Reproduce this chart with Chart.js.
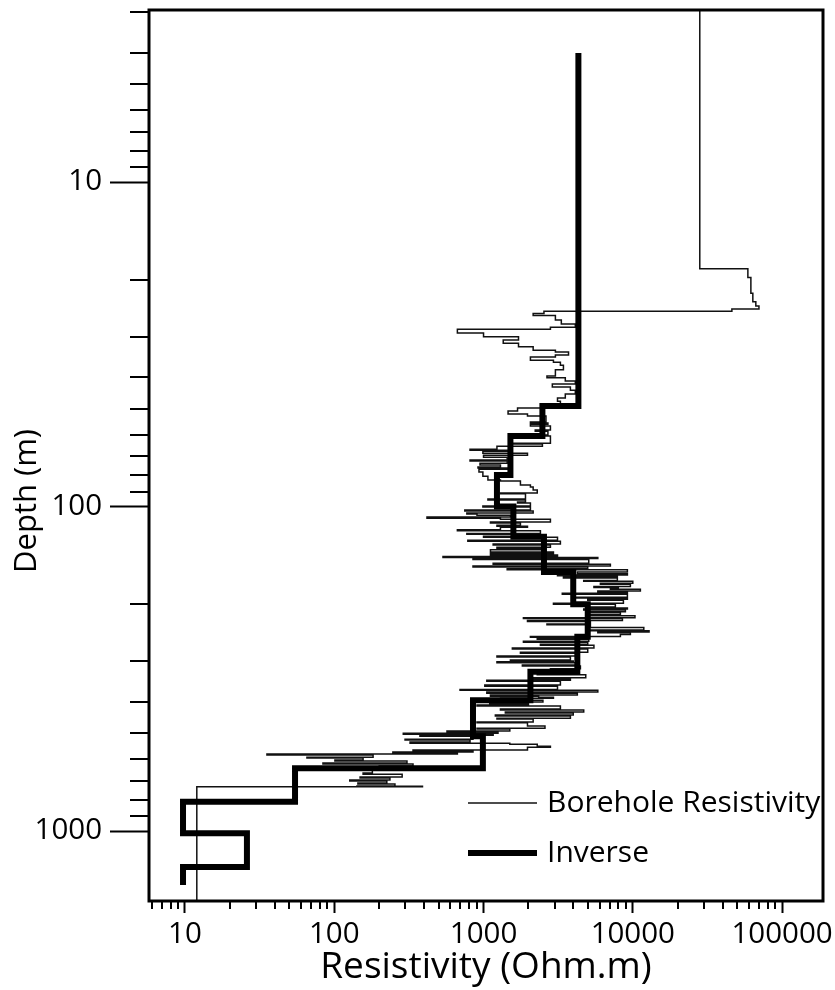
<!DOCTYPE html>
<html>
<head>
<meta charset="utf-8">
<script src="https://cdn.jsdelivr.net/npm/chart.js@4.4.0/dist/chart.umd.min.js"></script>
<style>
  html, body { margin: 0; padding: 0; background: #fff; }
</style>
</head>
<body>
<canvas id="resistivityChart" width="835" height="990"></canvas>
<script>
// Borehole resistivity log: depth (m) where each step starts, resistivity (Ohm.m) below it
const boreDepth = [
    2.95, 18.5, 19.7, 22.0, 23.4, 24.1, 24.6, 25.0, 25.4, 25.8,
    26.6, 27.4, 28.0, 28.4, 29.2, 30.0, 30.7, 31.4, 32.2, 33.0,
    33.4, 34.1, 34.6, 35.4, 35.9, 36.7, 37.9, 39.6, 40.1, 41.0,
    41.9, 42.8, 43.8, 45.0, 46.3, 47.4, 48.4, 49.7, 50.8, 51.9,
    52.6, 54.9, 55.3, 55.8, 56.5, 58.1, 58.6, 60.2, 60.6, 63.8,
    64.2, 65.2, 66.6, 67.1, 67.6, 68.5, 69.5, 70.5, 71.9, 72.4,
    73.5, 74.5, 75.6, 76.1, 76.7, 78.3, 80.6, 82.8, 83.4, 85.8,
    87.0, 88.9, 90.8, 91.4, 94.8, 95.5, 96.9, 97.6, 99.7, 100.4,
    102.5, 103.2, 104.7, 105.5, 106.3, 107.8, 108.6, 109.4, 111.6, 112.4,
    114.2, 115.0, 115.8, 118.0, 118.8, 121.0, 121.8, 123.5, 124.4, 127,
    128, 130.5, 131.5, 133.5, 134.4, 136, 138, 139.5, 141, 142.5,
    143.5, 144.5, 145.5, 149.5, 150.5, 152.5, 153.5, 155.5, 156.5, 159,
    161, 162.5, 163.5, 165, 166, 169, 170, 172.5, 173.5, 176.5,
    177.5, 179, 180, 182, 184, 185, 186.5, 190.5, 191.5, 193,
    194.5, 198.5, 200, 204, 205.5, 207, 208.5, 211, 212.5, 215.5,
    217, 220, 221.5, 224.5, 226, 230, 231.5, 234.5, 236, 240,
    241.5, 243.5, 245, 248, 251.5, 253, 255, 256.5, 260, 262,
    265.5, 267.5, 273, 275, 281, 283, 289, 291, 297, 299,
    301, 303, 308, 310, 316, 320, 325, 330, 337, 339.5,
    343, 345.5, 355, 358, 366, 368.5, 373, 376, 381, 384,
    387, 390, 395, 400, 405, 409, 412, 421, 424, 430,
    433, 439, 442, 449, 452, 461, 464, 475, 482, 485,
    492, 496, 500, 503, 507, 510, 521, 524, 532, 536,
    540, 548, 552, 563, 567, 571, 575, 579, 583, 592,
    596, 604, 608, 617, 621, 630, 640, 649, 663, 668,
    682, 687, 696, 701, 711, 716, 726, 728, 731, 1643
];
const boreRes = [
    28100, 59000, 61800, 63700, 66700, 70000, 46100, 2540, 2150, 3030,
    3320, 4120, 2806, 668, 1000, 1715, 1355, 1715, 2150, 3030,
    3710, 3030, 2061, 2940, 3273, 3430, 3030, 2660, 3530, 4120,
    2890, 3819, 4120, 3530, 3130, 3273, 2580, 1690, 1460, 1970,
    2620, 2061, 2700, 2061, 2806, 2220, 2700, 2405, 2806, 1585,
    2480, 1230, 812, 1514, 990, 1970, 1000, 1440, 812, 1440,
    947, 1298, 918, 1514, 932, 990, 1070, 1298, 1767, 2061,
    2150, 2290, 1298, 1910, 1070, 1910, 1690, 2061, 990, 2061,
    749, 2150, 773, 904, 1514, 418, 1298, 2806, 1113, 1767,
    1230, 1970, 1298, 668, 2405, 773, 1850, 1000, 3130, 785,
    3273, 1160, 2806, 1230, 2405, 1113, 2940, 1113, 3130, 535,
    5830, 850, 5070, 1160, 7077, 850, 4990, 1440, 9200, 4250,
    9200, 3130, 7880, 3430, 7880, 4690, 10000, 6066, 9634, 5490,
    8000, 7077, 11240, 5830, 9200, 3370, 9200, 3990, 9200, 4990,
    8650, 2940, 7640, 4990, 9200, 4690, 8920, 5199, 8257, 5199,
    10340, 1850, 8520, 1970, 5199, 2660, 5199, 4990, 11850, 4990,
    12850, 5830, 9634, 8257, 2061, 4250, 2290, 5070, 1850, 4990,
    2405, 5490, 1560, 4990, 1767, 4250, 1230, 3819, 1514, 3990,
    1230, 4250, 1820, 4456, 2806, 4120, 2290, 4840, 2061, 3819,
    1052, 3273, 1020, 3130, 696, 5830, 1052, 4250, 1113, 2340,
    2940, 1300, 2500, 1100, 2000, 904, 3273, 1298, 4690, 1400,
    3990, 1200, 3819, 1230, 2150, 904, 1970, 2580, 904, 1500,
    569, 1250, 290, 1160, 375, 850, 298, 812, 322, 1500,
    2290, 2806, 1970, 337, 850, 247, 668, 35.4, 182, 65.6,
    156, 101, 307, 84, 337, 200, 290, 180, 156, 285,
    149, 236, 127, 225, 144, 255, 142, 390, 12, 12
];

// Inverse model: top of each layer (m) and its resistivity (Ohm.m); last entry closes the bottom layer
const invDepth = [4.0, 49.0, 60.6, 80.0, 100, 124, 159, 200, 252, 323, 395, 510, 640, 812, 1015, 1290, 1466];
const invRes   = [4320, 2480, 1514, 1230, 1585, 2540, 3990, 4990, 4250, 2061, 850, 990, 54.6, 9.7, 26, 9.7, 9.7];

// Axis ticks
const xLabels = [10, 100, 1000, 10000, 100000];
const yLabels = [10, 100, 1000];
const xMinor = [6, 7, 8, 9, 20, 30, 40, 50, 60, 70, 80, 90, 200, 300, 400, 500, 600, 700, 800, 900,
    2000, 3000, 4000, 5000, 6000, 7000, 8000, 9000, 20000, 30000, 40000, 50000, 60000, 70000, 80000, 90000];
const yMinor = [3, 4, 5, 6, 7, 8, 9, 20, 30, 40, 50, 60, 70, 80, 90, 200, 300, 400, 500, 600, 700, 800, 900];

const FONT = "'Open Sans', sans-serif";

// Minor tick marks, the closed plot frame, the rotated y title and the in-plot legend
const frameAndLegend = {
    id: 'frameAndLegend',
    afterDraw(chart) {
        const { ctx, chartArea: a, scales } = chart;
        ctx.save();
        ctx.strokeStyle = '#000';
        ctx.lineWidth = 2;
        ctx.beginPath();
        yMinor.forEach(v => {
            const y = Math.round(scales.y.getPixelForValue(v));
            ctx.moveTo(a.left - 19, y);
            ctx.lineTo(a.left, y);
        });
        xMinor.forEach(v => {
            const x = Math.round(scales.x.getPixelForValue(v));
            ctx.moveTo(x, a.bottom);
            ctx.lineTo(x, a.bottom + 8);
        });
        ctx.stroke();

        ctx.lineWidth = 3;
        ctx.strokeRect(a.left, a.top, a.right - a.left, a.bottom - a.top);

        // y axis title sits a bit below the middle of the axis in the original
        ctx.fillStyle = '#000';
        ctx.font = '31px ' + FONT;
        ctx.textAlign = 'center';
        ctx.textBaseline = 'middle';
        ctx.save();
        ctx.translate(27, 501);
        ctx.rotate(-Math.PI / 2);
        ctx.fillText('Depth (m)', 0, 0);
        ctx.restore();

        // legend
        ctx.textAlign = 'left';
        ctx.font = '30px ' + FONT;
        chart.data.datasets.forEach((ds, i) => {
            const y = a.bottom - 98 + i * 50;
            ctx.beginPath();
            ctx.lineWidth = ds.borderWidth;
            ctx.strokeStyle = ds.borderColor;
            ctx.moveTo(a.right - 355, y);
            ctx.lineTo(a.right - 286, y);
            ctx.stroke();
            ctx.fillText(ds.label, a.right - 276, y);
        });
        ctx.restore();
    }
};

const borehole = boreDepth.map((d, i) => ({ x: boreRes[i], y: d }));
const inverse = invDepth.map((d, i) => ({ x: invRes[i], y: d }));

const ctx = document.getElementById('resistivityChart').getContext('2d');
new Chart(ctx, {
    type: 'scatter',
    data: {
        datasets: [
            {
                label: 'Borehole Resistivity',
                data: borehole,
                showLine: true,
                stepped: 'after',
                borderColor: '#111',
                borderWidth: 1.5,
                pointRadius: 0,
                order: 1
            },
            {
                label: 'Inverse',
                data: inverse,
                showLine: true,
                stepped: 'after',
                borderColor: '#000',
                borderWidth: 6,
                borderCapStyle: 'butt',
                borderJoinStyle: 'miter',
                pointRadius: 0,
                order: 0
            }
        ]
    },
    options: {
        responsive: false,
        animation: false,
        layout: { padding: { top: 10, right: 12, left: 0, bottom: 0 } },
        plugins: {
            legend: { display: false },
            tooltip: { enabled: false }
        },
        scales: {
            x: {
                type: 'logarithmic',
                min: 5.74,
                max: 188000,
                afterBuildTicks: s => { s.ticks = xLabels.map(v => ({ value: v })); },
                // fixed axis band, no extra end padding for the labels
                afterFit: s => { s.height = 89; s.paddingLeft = 0; s.paddingRight = 0; },
                border: { display: false },
                grid: { drawOnChartArea: false, drawTicks: true, tickLength: 12, tickWidth: 2, tickColor: '#000' },
                ticks: {
                    autoSkip: false, maxRotation: 0, minRotation: 0, padding: 4,
                    color: '#000', font: { family: FONT, size: 29.5 },
                    callback: v => String(v)
                },
                title: {
                    display: true, text: 'Resistivity (Ohm.m)', color: '#000',
                    font: { family: FONT, size: 37 }, padding: { top: 0, bottom: 0 }
                }
            },
            y: {
                type: 'logarithmic',
                reverse: true,
                min: 2.95,
                max: 1643,
                afterBuildTicks: s => { s.ticks = yLabels.map(v => ({ value: v })); },
                afterFit: s => { s.width = 149; s.paddingTop = 0; s.paddingBottom = 0; },
                border: { display: false },
                grid: { drawOnChartArea: false, drawTicks: true, tickLength: 39, tickWidth: 2, tickColor: '#000' },
                ticks: {
                    autoSkip: false, padding: 8,
                    color: '#000', font: { family: FONT, size: 29.5 },
                    callback: v => String(v)
                }
            }
        }
    },
    plugins: [frameAndLegend]
});
</script>
</body>
</html>
